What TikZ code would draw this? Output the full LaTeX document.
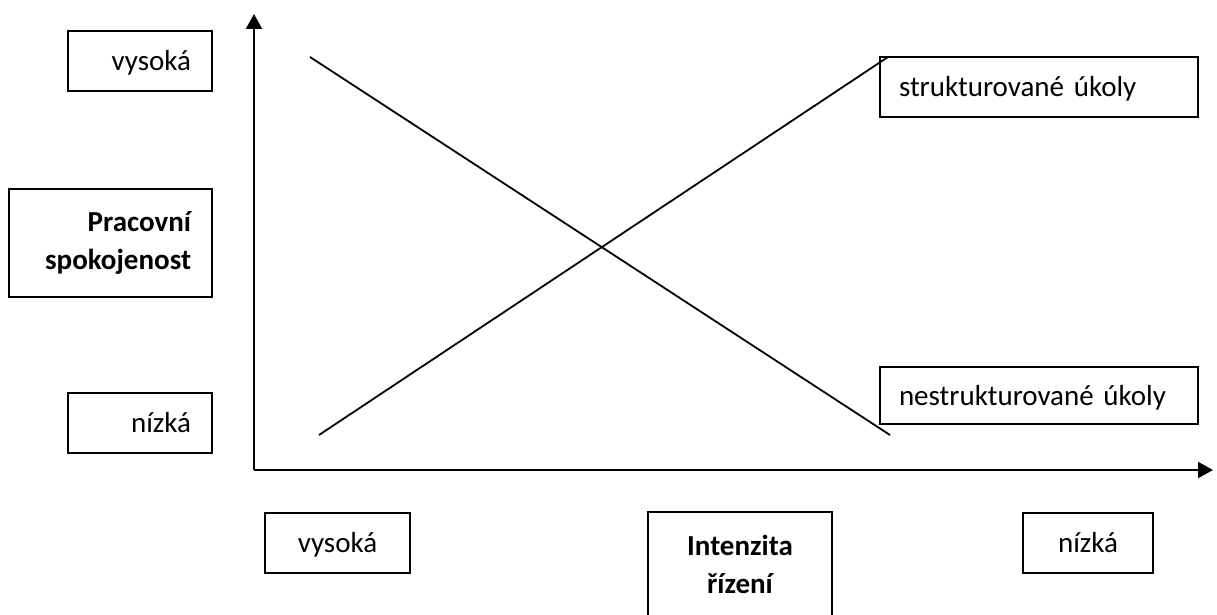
\documentclass[tikz,border=0pt]{standalone}
\usepackage{fontspec}
\setmainfont{Carlito}
\usetikzlibrary{arrows.meta}
\begin{document}
\begin{tikzpicture}[x=1pt,y=-1pt,
  box/.style={draw=black,line width=1.5pt,rectangle,inner xsep=0pt,inner ysep=0pt,
    font=\fontsize{29}{38}\selectfont},
  one/.style={text height=26pt,text depth=7pt},
  axis/.style={line width=2.2pt,-{Triangle[length=15pt,width=16pt]}},
  curve/.style={line width=1.8pt}]
\clip (0,0) rectangle (1217,615);
\fill[white] (0,0) rectangle (1217,615);
% left boxes
\node[box,one,minimum width=144pt,minimum height=60pt,text width=102pt,align=right] (vys) at (140,61) {vysoká};
\node[box,minimum width=203pt,minimum height=108pt,text width=161pt,align=right,font=\fontsize{29}{38}\selectfont\bfseries] (prac) at (110.5,243) {Pracovní\\spokojenost};
\node[box,one,minimum width=144pt,minimum height=60pt,text width=102pt,align=right] (niz) at (140,423) {nízká};
% right boxes
\node[box,one,minimum width=318pt,minimum height=60pt,text width=280pt,align=left] (str) at (1039,87) {strukturované úkoly};
\node[box,one,minimum width=318pt,minimum height=57pt,text width=280pt,align=left] (nstr) at (1039,395.5) {nestrukturované úkoly};
% bottom boxes
\node[box,one,minimum width=145pt,minimum height=60pt,align=center] (bvys) at (337.5,543) {vysoká};
\node[box,minimum width=184pt,minimum height=104pt,text width=184pt,align=center,font=\fontsize{29}{38}\selectfont\bfseries] (int) at (740,564) {Intenzita\\řízení};
\node[box,one,minimum width=130pt,minimum height=60pt,align=center] (bniz) at (1088,543) {nízká};
% axes
\coordinate (o) at (254,470);
\coordinate (ytop) at (254,14);
\coordinate (xend) at (1213,470);
\draw[axis] (o) -- (ytop);
\draw[axis] (o) -- (xend);
% curves
\coordinate (a1) at (310,57);
\coordinate (a2) at (890,435);
\coordinate (b1) at (319,435);
\coordinate (b2) at (888,57);
\draw[curve] (a1) -- (a2);
\draw[curve] (b1) -- (b2);
\end{tikzpicture}
\end{document}
